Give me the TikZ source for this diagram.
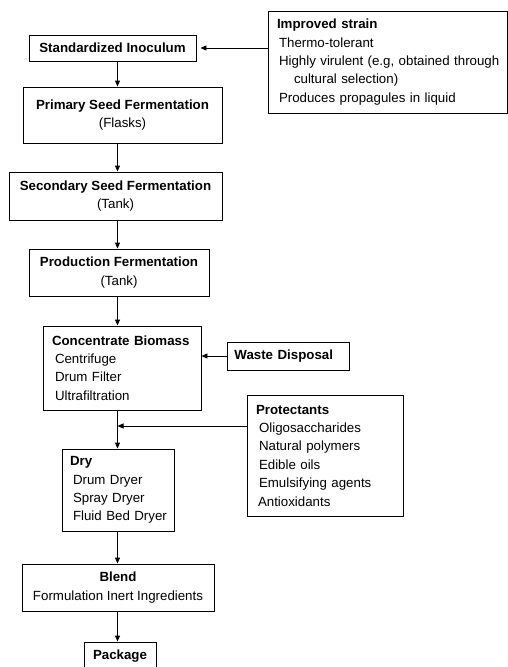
\documentclass[tikz,border=0pt]{standalone}
\usepackage{fontspec}
\setmainfont{Liberation Sans}
\usepackage{tikz}
\usetikzlibrary{arrows.meta,calc}
\newcommand{\spinearrow}[2]{%
  \draw[flowarrow] (#1.south -| spine) -- (#2.north -| spine);
}
\newcommand{\entry}[2][3pt]{\mbox{\hspace*{#1}#2}}

\begin{document}
\begin{tikzpicture}[x=1pt,y=-1pt,
    font=\fontsize{13.3}{18.4}\selectfont,
    stage/.style={draw,line width=.9pt,inner sep=0pt,align=center},
    listbox/.style={draw,line width=.9pt,inner ysep=0pt,inner xsep=9pt,align=left},
    flowarrow/.style={line width=.9pt,-{Triangle[length=6pt,width=5pt]}}]
    \useasboundingbox (0,0) rectangle (508,667);
    \coordinate (spine) at (117.5,0);
    \node[stage,minimum width=167,minimum height=26] (std) at (112.5,48)
      {\textbf{Standardized Inoculum}};
    \node[stage,minimum width=199,minimum height=56] (prim) at (122.5,115)
      {\textbf{Primary Seed Fermentation}\\(Flasks)};
    \node[stage,minimum width=213,minimum height=48] (sec) at (115.5,196)
      {\textbf{Secondary Seed Fermentation}\\(Tank)};
    \node[stage,minimum width=180,minimum height=47] (prod) at (119,272.5)
      {\textbf{Production Fermentation}\\(Tank)};
    \node[listbox,text width=140,minimum height=84] (conc) at (122,368)
      {\entry[0pt]{\textbf{Concentrate Biomass}}\\\entry{Centrifuge}\\\entry{Drum Filter}\\\entry{Ultrafiltration}};
    \node[listbox,text width=96,inner xsep=8pt,minimum height=82] (dry) at (118,490)
      {\entry[0pt]{\textbf{Dry}}\\\entry{Drum Dryer}\\\entry{Spray Dryer}\\\entry{Fluid Bed Dryer}};
    \node[stage,minimum width=192,minimum height=47] (blend) at (118,587.5)
      {\textbf{Blend}\\Formulation Inert Ingredients};
    \node[stage,minimum width=72,minimum height=28] (pack) at (120,656)
      {\textbf{Package}};
    \node[listbox,text width=221.5,minimum height=102] (strain) at (387.75,62)
      {\entry[0pt]{\textbf{Improved strain}}\\\entry[2pt]{Thermo-tolerant}\\\entry[2pt]{Highly virulent (e.g, obtained through}\\\entry[17pt]{cultural selection)}\\\entry[2pt]{Produces propagules in liquid}};
    \node[stage,minimum width=122,minimum height=28,anchor=west,text width=108,inner xsep=7pt,align=left] (waste) at (227,356)
      {\textbf{Waste Disposal}};
    \node[listbox,text width=138,minimum height=121] (prot) at (325,455.5)
      {\entry[0pt]{\textbf{Protectants}}\\\entry{Oligosaccharides}\\\entry{Natural polymers}\\\entry{Edible oils}\\\entry{Emulsifying agents}\\\entry[2pt]{Antioxidants}};
    \foreach \a/\b in {std/prim,prim/sec,sec/prod,prod/conc,conc/dry,dry/blend,blend/pack}
      \spinearrow{\a}{\b}
    \coordinate (pjoin) at (117.5,426);
    \draw[flowarrow,shorten >=4pt] (strain.west |- std.east) -- (std.east);
    \draw[flowarrow] (waste.west) -- (conc.east |- waste.west);
    \draw[flowarrow] (prot.west |- pjoin) -- (pjoin);
\end{tikzpicture}
\end{document}
